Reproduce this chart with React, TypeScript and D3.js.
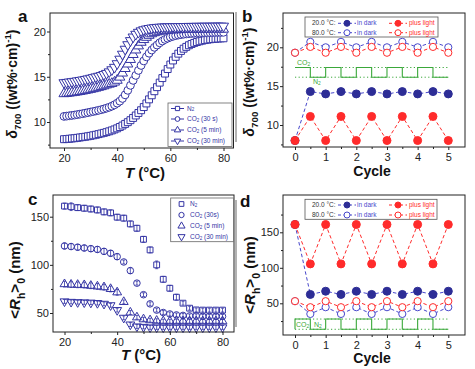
import React, { useEffect, useRef } from 'react';
import * as d3 from 'd3';

const FONT = '"Liberation Sans", Arial, Helvetica, sans-serif';
const BLUE = '#3434a4';
const BLUE_FILL = '#2d2d96';
const BLUE_LINE = '#4848cc';
const RED = '#ff2b2b';
const GREEN = '#3aa83a';
const AXIS = '#222';

// ---- panel a: delta700 vs T ----
const tempsA = [
  20, 21, 22, 23, 24, 25, 26, 27, 28, 29, 30, 31, 32, 33, 34, 35, 36, 37, 38, 39, 40,
  41, 42, 43, 44, 45, 46, 47, 48, 49, 50, 51, 52, 53, 54, 55, 56, 57, 58, 59, 60,
  61, 62, 63, 64, 65, 66, 67, 68, 69, 70, 71, 72, 73, 74, 75, 76, 77, 78, 79, 80,
];
const deltaN2 = [
  8.1, 8.12, 8.15, 8.18, 8.21, 8.25, 8.29, 8.33, 8.37, 8.42,
  8.47, 8.53, 8.59, 8.66, 8.73, 8.8, 8.88, 8.97, 9.07, 9.18,
  9.3, 9.45, 9.61, 9.79, 9.98, 10.2, 10.45, 10.72, 11.0, 11.3,
  11.65, 12.05, 12.5, 12.95, 13.4, 13.85, 14.35, 14.85, 15.35, 15.85,
  16.35, 16.8, 17.2, 17.55, 17.85, 18.1, 18.3, 18.48, 18.62, 18.74,
  18.84, 18.92, 18.99, 19.05, 19.1, 19.14, 19.17, 19.2, 19.22, 19.24, 19.25,
];
const deltaCO2s = [
  10.62, 10.65, 10.69, 10.73, 10.77, 10.82, 10.87, 10.92, 10.98, 11.04,
  11.1, 11.16, 11.22, 11.29, 11.36, 11.44, 11.53, 11.63, 11.75, 11.9,
  12.08, 12.3, 12.6, 13.0, 13.5, 14.05, 14.6, 15.15, 15.7, 16.25,
  16.75, 17.2, 17.6, 17.95, 18.25, 18.5, 18.75, 18.95, 19.12, 19.26,
  19.38, 19.47, 19.55, 19.61, 19.66, 19.7, 19.73, 19.76, 19.78, 19.8,
  19.82, 19.83, 19.84, 19.85, 19.86, 19.87, 19.88, 19.89, 19.9, 19.9, 19.91,
];
const deltaCO5m = [
  13.12, 13.15, 13.19, 13.23, 13.27, 13.32, 13.37, 13.42, 13.48, 13.54,
  13.6, 13.67, 13.74, 13.82, 13.9, 13.99, 14.09, 14.17, 14.25, 14.4,
  14.6, 14.95, 15.4, 15.9, 16.4, 16.9, 17.45, 17.95, 18.4, 18.8,
  19.1, 19.35, 19.57, 19.74, 19.86, 19.95, 20.02, 20.07, 20.11, 20.14,
  20.16, 20.18, 20.19, 20.2, 20.2, 20.21, 20.21, 20.22, 20.22, 20.22,
  20.23, 20.23, 20.23, 20.24, 20.24, 20.24, 20.24, 20.25, 20.25, 20.25, 20.25,
];
const deltaCO30m = [
  14.35, 14.38, 14.42, 14.46, 14.5, 14.55, 14.6, 14.65, 14.71, 14.77,
  14.84, 14.91, 14.99, 15.06, 15.14, 15.25, 15.38, 15.55, 15.78, 16.05,
  16.45, 16.95, 17.5, 18.05, 18.55, 19.0, 19.4, 19.7, 19.92, 20.08,
  20.2, 20.28, 20.34, 20.39, 20.43, 20.46, 20.48, 20.5, 20.51, 20.52,
  20.53, 20.54, 20.54, 20.55, 20.55, 20.56, 20.56, 20.57, 20.57, 20.57,
  20.58, 20.58, 20.58, 20.59, 20.59, 20.59, 20.59, 20.6, 20.6, 20.6, 20.6,
];

// ---- panels b and d: cycling ----
const cycles = [0, 0.5, 1, 1.5, 2, 2.5, 3, 3.5, 4, 4.5, 5];
const gasState = ['CO2', 'N2', 'CO2', 'N2', 'CO2', 'N2', 'CO2', 'N2', 'CO2', 'N2', 'N2'];

const deltaDark20 = [8.0, 14.3, 14.0, 14.3, 14.0, 14.3, 14.0, 14.3, 14.0, 14.3, 14.0];
const deltaLight20 = [8.0, 11.1, 8.0, 11.1, 8.0, 11.1, 8.0, 11.1, 8.0, 11.1, 8.0];
const deltaDark80 = [19.3, 20.7, 20.0, 20.7, 20.0, 20.7, 20.0, 20.7, 20.0, 20.7, 20.0];
const deltaLight80 = [19.3, 20.05, 19.3, 20.05, 19.3, 20.05, 19.3, 20.05, 19.3, 20.05, 19.3];
const deltaGasLevel = { CO2: 17.4, N2: 16.15 };

const rhDark20 = [161, 62.5, 67, 62.5, 67, 62.5, 67, 62.5, 67, 62.5, 67];
const rhLight20 = [161, 105.5, 161, 105.5, 161, 105.5, 161, 105.5, 161, 105.5, 161];
const rhDark80 = [53, 35, 44.5, 35, 44.5, 35, 44.5, 35, 44.5, 35, 44.5];
const rhLight80 = [53, 44.5, 53, 44.5, 53, 44.5, 53, 44.5, 53, 44.5, 53];
const rhGasLevel = { CO2: 27.8, N2: 13.4 };

// ---- panel c: Rh vs T ----
const tempsC = [20, 22.5, 25, 27.5, 30, 32.5, 35, 37.5, 40, 42.5, 45, 47.5, 50, 52.5, 55, 57.5, 60, 62.5, 65, 67.5, 70, 72.5, 75, 77.5, 80];
const rhN2 = [161, 160.4, 159.4, 158.8, 158, 157, 155, 154, 149.5, 148.5, 142.5, 138, 126.5, 115.5, 100, 85, 75.7, 66.4, 60.2, 55, 53.2, 53, 53, 53, 53];
const rhCO2s = [119.6, 119, 118.3, 117.5, 116.8, 116, 114, 112, 108.5, 103, 94, 81, 69, 59.5, 53, 50.5, 49, 48, 47.5, 47, 47, 46.5, 46.5, 46.5, 46.5];
const rhCO5m = [80, 79.5, 79.3, 79, 78.3, 77.6, 76.8, 75, 71.5, 61.5, 50.5, 45.5, 43.5, 42.5, 42, 41.5, 41.5, 41.5, 41.5, 41.5, 41.5, 41.5, 41.5, 41.5, 41.5];
const rhCO30m = [62, 61.5, 61.2, 61, 60.7, 60.3, 59.5, 58, 53, 45, 38, 36, 35.5, 35, 35, 35, 35, 35, 35, 35, 35, 35, 35, 35, 35];
const errN2 = [3, 4, 3, 3, 3, 3, 3, 3, 3, 3, 3, 3, 3, 3, 4, 3, 3, 3, 2, 2, 2, 2, 2, 2, 2];
const errCO2s = [3, 3, 3, 3, 3, 3, 3, 3, 3, 2, 3, 2, 2, 2, 2, 2, 2, 2, 2, 2, 2, 2, 2, 2, 2];
const errCO5m = [3, 3, 3, 3, 3, 3, 3, 3, 3, 2, 2, 2, 2, 2, 2, 2, 2, 2, 2, 2, 2, 2, 2, 2, 2];
const errCO30m = [2, 2, 2, 2, 2, 2, 2, 2, 2, 2, 2, 2, 2, 2, 2, 2, 2, 2, 2, 2, 2, 2, 2, 2, 2];

type Part = { t: string; sub?: boolean; sup?: boolean; it?: boolean };

function rich(text: any, parts: Part[], fs: number) {
  let shift = 0;
  parts.forEach((p) => {
    const target = p.sub ? fs * 0.3 : p.sup ? -fs * 0.4 : 0;
    const ts = text.append('tspan').attr('dy', target - shift).text(p.t);
    shift = target;
    if (p.sub || p.sup) ts.attr('font-size', fs * 0.7);
    if (p.it) ts.attr('font-style', 'italic');
  });
}

const symType: Record<string, any> = {
  square: d3.symbolSquare,
  circle: d3.symbolCircle,
  up: d3.symbolTriangle,
  down: d3.symbolTriangle,
};

function marker(g: any, kind: string, x: number, y: number, size: number, stroke: string, fill: string) {
  g.append('path')
    .attr('d', d3.symbol().type(symType[kind]).size(size)()!)
    .attr('transform', `translate(${x},${y})${kind === 'down' ? ' rotate(180)' : ''}`)
    .attr('fill', fill)
    .attr('stroke', stroke)
    .attr('stroke-width', 1);
}

interface Box { l: number; r: number; t: number; b: number }

function axes(g: any, box: Box, x: any, y: any, xMajor: number[], xMinor: number[], yMajor: number[], yMinor: number[]) {
  const style = (s: any) => {
    s.select('.domain').remove();
    s.attr('font-size', 11).attr('font-family', FONT).attr('color', AXIS);
  };
  g.append('g').attr('transform', `translate(0,${box.b})`)
    .call(d3.axisBottom(x).tickValues(xMajor).tickSize(3).tickPadding(3).tickFormat(d3.format('d')))
    .call(style);
  g.append('g').attr('transform', `translate(0,${box.b})`)
    .call(d3.axisBottom(x).tickValues(xMinor).tickSize(2).tickFormat(() => ''))
    .call(style);
  g.append('g').attr('transform', `translate(${box.l},0)`)
    .call(d3.axisLeft(y).tickValues(yMajor).tickSize(3).tickPadding(1).tickFormat(d3.format('d')))
    .call(style);
  g.append('g').attr('transform', `translate(${box.l},0)`)
    .call(d3.axisLeft(y).tickValues(yMinor).tickSize(2).tickFormat(() => ''))
    .call(style);
  g.append('rect')
    .attr('x', box.l).attr('y', box.t)
    .attr('width', box.r - box.l).attr('height', box.b - box.t)
    .attr('fill', 'none').attr('stroke', AXIS).attr('stroke-width', 1);
}

function label(svg: any, x: number, y: number, parts: Part[], fs: number, rotate = false, anchor = 'middle') {
  const t = svg.append('text')
    .attr('transform', `translate(${x},${y})${rotate ? ' rotate(-90)' : ''}`)
    .attr('text-anchor', anchor)
    .attr('font-family', FONT)
    .attr('font-weight', 'bold')
    .attr('font-size', fs)
    .attr('fill', '#111');
  rich(t, parts, fs);
  return t;
}

function smallText(g: any, x: number, y: number, parts: Part[], color: string, fs = 6.5) {
  const t = g.append('text').attr('x', x).attr('y', y).attr('font-family', FONT)
    .attr('font-size', fs).attr('fill', color).attr('dominant-baseline', 'middle');
  rich(t, parts, fs);
}

function cyclePanel(svg: any, box: Box, yDom: [number, number], yRange: [number, number], yMajor: number[], yMinor: number[],
  dark20: number[], light20: number[], dark80: number[], light80: number[], gas: Record<string, number>,
  legendBox: Box, rows: [number, number], isD: boolean) {
  const g = svg.append('g');
  const x = d3.scaleLinear().domain([0, 5]).range([295, 448.3]);
  const y = d3.scaleLinear().domain(yDom).range(yRange);

  // gas switching trace
  [gas.CO2, gas.N2].forEach((lv) => {
    g.append('line').attr('x1', x(0)).attr('x2', x(5)).attr('y1', y(lv)).attr('y2', y(lv))
      .attr('stroke', GREEN).attr('stroke-width', 1).attr('stroke-dasharray', '1.2,2.4');
  });
  const gasPts = cycles.map((c, i) => [c, gas[gasState[i]]] as [number, number]);
  if (isD) gasPts.unshift([0, gas.N2]);
  g.append('path')
    .attr('d', d3.line<[number, number]>().x((d) => x(d[0])).y((d) => y(d[1])).curve(d3.curveStepAfter)(gasPts)!)
    .attr('fill', 'none').attr('stroke', GREEN).attr('stroke-width', 1.1);

  const line = d3.line<number>().x((_, i) => x(cycles[i])).y((d) => y(d));
  const series = [
    { v: dark20, c: BLUE_LINE, filled: true, mc: BLUE_FILL },
    { v: dark80, c: BLUE_LINE, filled: false, mc: BLUE_LINE },
    { v: light20, c: RED, filled: true, mc: RED },
    { v: light80, c: RED, filled: false, mc: RED },
  ];
  series.forEach((s) => {
    g.append('path').attr('d', line(s.v)!).attr('fill', 'none').attr('stroke', s.c)
      .attr('stroke-width', 1).attr('stroke-dasharray', '3.5,2.5');
  });
  series.forEach((s) => {
    s.v.forEach((v, i) => {
      g.append('circle').attr('cx', x(cycles[i])).attr('cy', y(v)).attr('r', s.filled ? 4 : 3.6)
        .attr('fill', s.filled ? s.mc : 'white').attr('stroke', s.mc).attr('stroke-width', 1);
    });
  });

  axes(g, box, x, y, [0, 1, 2, 3, 4, 5], [0.5, 1.5, 2.5, 3.5, 4.5], yMajor, yMinor);

  // legend
  g.append('rect').attr('x', legendBox.l).attr('y', legendBox.t)
    .attr('width', legendBox.r - legendBox.l).attr('height', legendBox.b - legendBox.t)
    .attr('fill', 'white').attr('stroke', '#555').attr('stroke-width', 0.8);
  const legRows = [
    { temp: '20.0 °C:', filled: true },
    { temp: '80.0 °C:', filled: false },
  ];
  legRows.forEach((r, i) => {
    const ly = rows[i];
    smallText(g, 312, ly, [{ t: r.temp }], '#333');
    [{ cx: 347, c: BLUE_LINE, mc: r.filled ? BLUE_FILL : BLUE_LINE, txt: 'in dark', tx: 357 },
     { cx: 398, c: RED, mc: RED, txt: 'plus light', tx: 409 }].forEach((e) => {
      g.append('line').attr('x1', e.cx - 9).attr('x2', e.cx + 9).attr('y1', ly).attr('y2', ly)
        .attr('stroke', e.c).attr('stroke-width', 1).attr('stroke-dasharray', '3,2.5');
      g.append('circle').attr('cx', e.cx).attr('cy', ly).attr('r', 3)
        .attr('fill', r.filled ? e.mc : 'white').attr('stroke', e.mc).attr('stroke-width', 1);
      smallText(g, e.tx, ly, [{ t: e.txt }], e.c === RED ? RED : BLUE_LINE);
    });
  });

  // gas labels
  if (isD) {
    smallText(g, 296, 325, [{ t: 'CO' }, { t: '2', sub: true }], GREEN, 7);
    smallText(g, 314, 325, [{ t: 'N' }, { t: '2', sub: true }], GREEN, 7);
  } else {
    smallText(g, 297, y(gas.CO2) - 5, [{ t: 'CO' }, { t: '2', sub: true }], GREEN, 7);
    smallText(g, 313, y(gas.N2) + 5, [{ t: 'N' }, { t: '2', sub: true }], GREEN, 7);
  }

  label(svg, 372, isD ? 363 : 176, [{ t: 'Cycle' }], 14);
}

const App: React.FC = () => {
  const ref = useRef<SVGSVGElement>(null);

  useEffect(() => {
    if (!ref.current) return;
    const svg = d3.select(ref.current);
    svg.selectAll('*').remove();
    svg.append('rect').attr('width', 475).attr('height', 369).attr('fill', 'white');

    // ---------- a ----------
    {
      const box = { l: 50, r: 233.5, t: 13, b: 148 };
      const g = svg.append('g');
      const x = d3.scaleLinear().domain([20, 80]).range([64, 223.5]);
      const y = d3.scaleLinear().domain([10, 20]).range([122, 31.5]);
      const series = [
        { v: deltaN2, k: 'square', s: 48 },
        { v: deltaCO2s, k: 'circle', s: 48 },
        { v: deltaCO5m, k: 'up', s: 44 },
        { v: deltaCO30m, k: 'down', s: 44 },
      ];
      series.forEach((s) => {
        s.v.forEach((v, i) => marker(g, s.k, x(tempsA[i]), y(v), s.s, BLUE, 'white'));
      });
      axes(g, box, x, y, [20, 40, 60, 80], [30, 50, 70], [10, 15, 20], [7.5, 12.5, 17.5]);

      const lb = { l: 168, r: 232, t: 103, b: 146.5 };
      g.append('rect').attr('x', lb.l).attr('y', lb.t).attr('width', lb.r - lb.l).attr('height', lb.b - lb.t)
        .attr('fill', 'white').attr('stroke', '#666').attr('stroke-width', 0.8);
      const legA = [
        { k: 'square', parts: [{ t: 'N' }, { t: '2', sub: true }] },
        { k: 'circle', parts: [{ t: 'CO' }, { t: '2', sub: true }, { t: ' (30 s)' }] },
        { k: 'up', parts: [{ t: 'CO' }, { t: '2', sub: true }, { t: ' (5 min)' }] },
        { k: 'down', parts: [{ t: 'CO' }, { t: '2', sub: true }, { t: ' (30 min)' }] },
      ];
      const ly = [108.5, 119, 130, 141];
      legA.forEach((e, i) => {
        g.append('line').attr('x1', 171).attr('x2', 184).attr('y1', ly[i]).attr('y2', ly[i])
          .attr('stroke', BLUE).attr('stroke-width', 1);
        marker(g, e.k, 177.5, ly[i], 18, BLUE, 'white');
        smallText(g, 187, ly[i], e.parts, BLUE);
      });

      label(svg, 17, 84, [{ t: 'δ', it: true }, { t: '700', sub: true }, { t: ' ((wt%·cm)' }, { t: '-1', sup: true }, { t: ')' }], 14, true);
      label(svg, 145, 178, [{ t: 'T', it: true }, { t: '  (°C)' }], 15);
      label(svg, 18, 22, [{ t: 'a' }], 17, false, 'start');
    }

    // ---------- b ----------
    cyclePanel(svg, { l: 283, r: 465, t: 13, b: 147 }, [10, 20], [125, 47.3], [10, 15, 20], [7.5, 12.5, 17.5, 22.5],
      deltaDark20, deltaLight20, deltaDark80, deltaLight80, deltaGasLevel,
      { l: 305, r: 438, t: 17, b: 37 }, [23.3, 32.7], false);
    label(svg, 254, 82, [{ t: 'δ', it: true }, { t: '700', sub: true }, { t: ' ((wt%·cm)' }, { t: '-1', sup: true }, { t: ')' }], 14, true);
    label(svg, 242, 22, [{ t: 'b' }], 17, false, 'start');

    // ---------- c ----------
    {
      const box = { l: 53, r: 234, t: 195, b: 332 };
      const g = svg.append('g');
      const x = d3.scaleLinear().domain([20, 80]).range([64.5, 222.5]);
      const y = d3.scaleLinear().domain([50, 150]).range([313, 216.7]);
      const series = [
        { v: rhN2, e: errN2, k: 'square', s: 34 },
        { v: rhCO2s, e: errCO2s, k: 'circle', s: 34 },
        { v: rhCO5m, e: errCO5m, k: 'up', s: 34 },
        { v: rhCO30m, e: errCO30m, k: 'down', s: 34 },
      ];
      series.forEach((s) => {
        s.v.forEach((v, i) => {
          const cx = x(tempsC[i]);
          const y0 = y(v - s.e[i]);
          const y1 = y(v + s.e[i]);
          g.append('line').attr('x1', cx).attr('x2', cx).attr('y1', y0).attr('y2', y1).attr('stroke', BLUE).attr('stroke-width', 0.8);
          g.append('line').attr('x1', cx - 1.5).attr('x2', cx + 1.5).attr('y1', y0).attr('y2', y0).attr('stroke', BLUE).attr('stroke-width', 0.8);
          g.append('line').attr('x1', cx - 1.5).attr('x2', cx + 1.5).attr('y1', y1).attr('y2', y1).attr('stroke', BLUE).attr('stroke-width', 0.8);
        });
        s.v.forEach((v, i) => marker(g, s.k, x(tempsC[i]), y(v), s.s, BLUE, 'none'));
      });
      axes(g, box, x, y, [20, 40, 60, 80], [30, 50, 70], [50, 100, 150], [75, 125]);

      const lb = { l: 170.7, r: 233.5, t: 198, b: 241.7 };
      g.append('rect').attr('x', lb.l).attr('y', lb.t).attr('width', lb.r - lb.l).attr('height', lb.b - lb.t)
        .attr('fill', 'white').attr('stroke', '#666').attr('stroke-width', 0.8);
      const legC = [
        { k: 'square', parts: [{ t: 'N' }, { t: '2', sub: true }] },
        { k: 'circle', parts: [{ t: 'CO' }, { t: '2', sub: true }, { t: ' (30s)' }] },
        { k: 'up', parts: [{ t: 'CO' }, { t: '2', sub: true }, { t: ' (5 min)' }] },
        { k: 'down', parts: [{ t: 'CO' }, { t: '2', sub: true }, { t: ' (30 min)' }] },
      ];
      const ly = [204, 215, 226, 236.7];
      legC.forEach((e, i) => {
        marker(g, e.k, 181.5, ly[i], 22, BLUE, 'white');
        smallText(g, 190, ly[i], e.parts, BLUE);
      });

      label(svg, 20, 280, [{ t: '<' }, { t: 'R', it: true }, { t: 'h', sub: true }, { t: '>' }, { t: '0', sub: true }, { t: '  (nm)' }], 15, true);
      label(svg, 141, 360, [{ t: 'T', it: true }, { t: '  (°C)' }], 15);
      label(svg, 28, 205, [{ t: 'c' }], 17, false, 'start');
    }

    // ---------- d ----------
    cyclePanel(svg, { l: 283, r: 465, t: 195, b: 335 }, [50, 150], [303.3, 232.3], [50, 100, 150], [25, 75, 125, 175],
      rhDark20, rhLight20, rhDark80, rhLight80, rhGasLevel,
      { l: 305, r: 437, t: 199.3, b: 219.3 }, [205, 215], true);
    label(svg, 255, 275, [{ t: '<' }, { t: 'R', it: true }, { t: 'h', sub: true }, { t: '>' }, { t: '0', sub: true }, { t: '  (nm)' }], 15, true);
    label(svg, 240, 207, [{ t: 'd' }], 17, false, 'start');

    // thin separator line left of right-hand panels
    svg.append('line').attr('x1', 236).attr('x2', 236).attr('y1', 12).attr('y2', 142).attr('stroke', '#666').attr('stroke-width', 1);
    svg.append('line').attr('x1', 236).attr('x2', 236).attr('y1', 200).attr('y2', 327).attr('stroke', '#666').attr('stroke-width', 1);
  }, []);

  return (
    <svg ref={ref} width={475} height={369} style={{ position: 'absolute', left: 0, top: 0 }} />
  );
};

export default App;
